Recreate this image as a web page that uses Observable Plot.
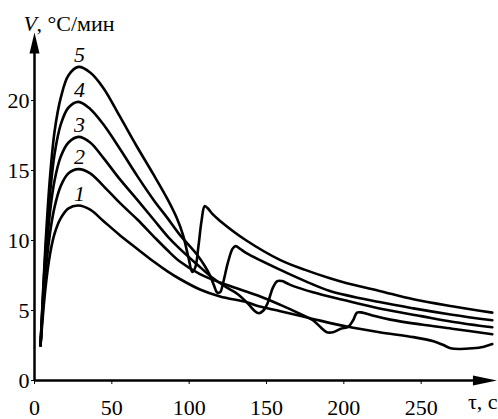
<!DOCTYPE html>
<html>
<head>
<meta charset="utf-8">
<script src="https://cdn.jsdelivr.net/npm/d3@7"></script>
<script src="https://cdn.jsdelivr.net/npm/@observablehq/plot@0.6"></script>
<style>
  html, body { margin: 0; padding: 0; background: #fff; }
</style>
</head>
<body>
<div id="chart"></div>
<script>
// ---- data ----
const curveNames = ["1", "2", "3", "4", "5"];

const t1 = [3.9, 7, 10, 13, 17, 22, 28.4, 36, 44.5, 55, 66.5, 77, 86, 94, 107, 120, 137, 145, 159, 180, 202, 223, 245, 258, 264, 269, 275, 283, 290, 296];
const v1 = [2.5, 6.5, 9.0, 10.5, 11.6, 12.3, 12.5, 12.2, 11.4, 10.4, 9.4, 8.5, 7.8, 7.25, 6.5, 6.0, 5.6, 5.3, 4.95, 4.4, 3.85, 3.45, 3.1, 2.8, 2.55, 2.3, 2.25, 2.3, 2.4, 2.6];

const t2 = [3.9, 7, 10, 13, 17, 22, 28.4, 36, 44.5, 55, 66.5, 77, 86, 94, 107, 120, 133, 146, 159, 170, 180, 185, 189, 193, 198, 203, 206, 208.5, 212, 220, 230, 250, 270, 296];
const v2 = [2.5, 7.5, 10.5, 12.4, 13.9, 14.8, 15.1, 14.8, 13.9, 12.7, 11.5, 10.3, 9.3, 8.5, 7.6, 7.0, 6.5, 6.0, 5.4, 4.85, 4.3, 3.8, 3.45, 3.45, 3.7, 3.85, 4.3, 4.85, 4.85, 4.6, 4.35, 4.0, 3.7, 3.3];

const t3 = [3.9, 7, 10, 13, 17, 22, 28.4, 36, 44.5, 55, 66.5, 77, 86, 94, 105, 115.5, 125, 131, 138, 142, 145, 148, 151, 154, 157, 160, 165, 180, 200, 223, 250, 270, 296];
const v3 = [2.5, 8.3, 12, 14.3, 16, 17, 17.4, 17.0, 15.9, 14.4, 12.9, 11.5, 10.3, 9.4, 8.3, 7.3, 6.6, 6.2, 5.5, 5.0, 4.8, 5.0, 5.6, 6.6, 7.1, 7.1, 6.85, 6.3, 5.75, 5.15, 4.6, 4.2, 3.8];

const t4 = [3.9, 7, 10, 13, 17, 22, 28.4, 36, 44.5, 55.5, 66.5, 77, 86, 94, 105, 110, 113.5, 116, 118, 120, 122, 125, 128, 130, 133, 137, 159, 175, 191, 223, 245, 270, 296];
const v4 = [2.5, 9, 13.3, 16.2, 18.3, 19.5, 19.9, 19.4, 18.3, 16.5, 14.6, 12.9, 11.6, 10.4, 9.0, 8.2, 7.5, 6.8, 6.3, 6.3, 7.0, 8.4, 9.4, 9.6, 9.4, 9.1, 7.9, 7.1, 6.4, 5.6, 5.15, 4.7, 4.3];

const t5 = [3.9, 7, 10, 13, 17, 22, 28.4, 36, 44.5, 55, 66, 77, 86, 92, 96, 99.5, 102, 104, 106, 108, 110, 112, 115, 120, 137, 159, 175, 191, 202, 223, 245, 270, 296];
const v5 = [2.5, 9.5, 14.5, 17.8, 20.2, 21.8, 22.4, 22.0, 20.9, 18.9, 16.75, 14.7, 12.95, 11.6, 10.4, 8.8, 7.75, 8.1, 9.6, 11.4, 12.45, 12.3, 11.9, 11.4, 10.0, 8.6, 7.9, 7.3, 6.95, 6.4, 5.8, 5.3, 4.85];

const xTicks = [0, 50, 100, 150, 200, 250];
const yTicks = [0, 5, 10, 15, 20];
const xDomain = [0, 300];
const yDomain = [0, 25];
const xArrowEnd = 299;   // arrow tip of the τ axis
const yArrowEnd = 24.85; // arrow tip of the V axis
const yTitleItalic = "V";
const yTitleRest = ", °C/мин";
const xTitle = "τ, c";

// ---- build table ----
const series = [[t1, v1], [t2, v2], [t3, v3], [t4, v4], [t5, v5]];
const rows = [];
series.forEach(([ts, vs], k) => ts.forEach((t, i) => rows.push({curve: curveNames[k], t, v: vs[i]})));
const peaks = series.map(([ts, vs], k) => {
  const i = d3.maxIndex(vs);
  return {label: curveNames[k], t: ts[i], v: vs[i]};
});

// arrowhead symbols (tip at the dot's position)
const arrowUp = {draw(ctx) { ctx.moveTo(0, 0); ctx.lineTo(-5, 21); ctx.lineTo(5, 21); ctx.closePath(); }};
const arrowRight = {draw(ctx) { ctx.moveTo(0, 0); ctx.lineTo(-24, -5); ctx.lineTo(-24, 5); ctx.closePath(); }};

const fs = 22;

const chart = Plot.plot({
  width: 498,
  height: 419,
  marginLeft: 34,
  marginRight: 0,
  marginTop: 30,
  marginBottom: 39,
  style: "font-family: 'Liberation Serif', serif; font-size: 22px; background: #fff; color: #000;",
  x: {domain: xDomain},
  y: {domain: yDomain},
  marks: [
    Plot.axisX({ticks: xTicks, tickFormat: d => d, tickSize: 4, tickPadding: 15, tickWidth: 2, label: null, fontSize: fs}),
    Plot.axisY({ticks: yTicks, tickFormat: d => d, tickSize: 3, tickPadding: 2, tickWidth: 2, label: null, fontSize: fs}),
    Plot.ruleY([0], {x1: 0, x2: xArrowEnd - 10, stroke: "#000", strokeWidth: 2.5}),
    Plot.ruleX([0], {y1: 0, y2: yArrowEnd - 1, stroke: "#000", strokeWidth: 2.5}),
    Plot.dot([xArrowEnd], {x: d => d, y: 0, symbol: arrowRight, fill: "#000", stroke: "none"}),
    Plot.dot([yArrowEnd], {x: 0, y: d => d, symbol: arrowUp, fill: "#000", stroke: "none"}),
    Plot.line(rows, {x: "t", y: "v", z: "curve", curve: "catmull-rom", stroke: "#000", strokeWidth: 2.6, strokeLinejoin: "round", strokeLinecap: "round"}),
    Plot.text(peaks, {x: "t", y: "v", text: "label", dx: 1, dy: -12, fontStyle: "italic", fontSize: fs, fill: "#000"}),
    Plot.text([yTitleItalic], {frameAnchor: "top-left", text: d => d, textAnchor: "start", dx: -11, dy: -15, fontStyle: "italic", fontSize: fs, fill: "#000"}),
    Plot.text([yTitleRest], {frameAnchor: "top-left", text: d => d, textAnchor: "start", dx: 2, dy: -15, fontSize: fs, fill: "#000"}),
    Plot.text([xTitle], {frameAnchor: "bottom-right", text: d => d, textAnchor: "end", dx: -1, dy: 28, fontSize: fs, fill: "#000"})
  ]
});
// force the serif face on every text element
chart.querySelectorAll("text").forEach(el => { el.style.fontFamily = "'Liberation Serif', serif"; });
document.getElementById("chart").appendChild(chart);
</script>
</body>
</html>
